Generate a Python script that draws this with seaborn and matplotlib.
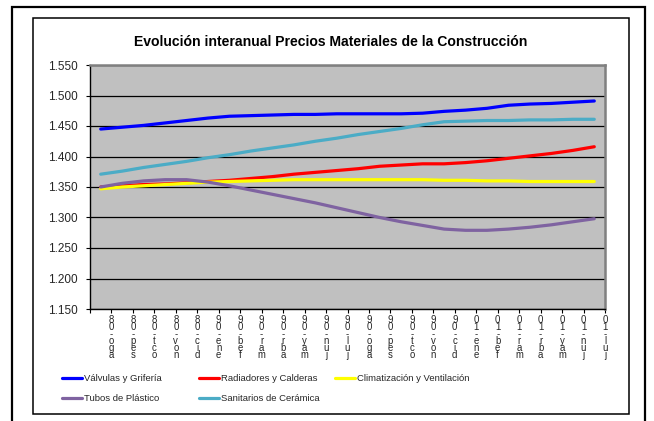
import numpy as np
import pandas as pd
import matplotlib
matplotlib.use("Agg")
import matplotlib.pyplot as plt
import matplotlib.transforms as mtransforms
from matplotlib.lines import Line2D
from matplotlib.patches import Rectangle
import seaborn as sns

# ---------------- data ----------------
meses = ["ago-08", "sep-08", "oct-08", "nov-08", "dic-08", "ene-09", "feb-09", "mar-09",
         "abr-09", "may-09", "jun-09", "jul-09", "ago-09", "sep-09", "oct-09", "nov-09",
         "dic-09", "ene-10", "feb-10", "mar-10", "abr-10", "may-10", "jun-10", "jul-10"]

valvulas = [1.445, 1.448, 1.451, 1.455, 1.459, 1.463, 1.466, 1.467, 1.468, 1.469, 1.469, 1.470,
            1.470, 1.470, 1.470, 1.471, 1.474, 1.476, 1.479, 1.484, 1.486, 1.487, 1.489, 1.491]
radiadores = [1.350, 1.352, 1.354, 1.355, 1.357, 1.359, 1.361, 1.364, 1.367, 1.371, 1.374, 1.377,
              1.380, 1.384, 1.386, 1.388, 1.388, 1.390, 1.393, 1.397, 1.401, 1.405, 1.410, 1.416]
climatizacion = [1.347, 1.350, 1.352, 1.354, 1.356, 1.358, 1.359, 1.360, 1.361, 1.362, 1.362, 1.362,
                 1.362, 1.362, 1.362, 1.362, 1.361, 1.361, 1.360, 1.360, 1.359, 1.359, 1.359, 1.359]
tubos = [1.350, 1.356, 1.360, 1.362, 1.362, 1.358, 1.352, 1.345, 1.338, 1.331, 1.324, 1.316,
         1.308, 1.300, 1.293, 1.287, 1.281, 1.279, 1.279, 1.281, 1.284, 1.288, 1.293, 1.298]
sanitarios = [1.371, 1.376, 1.382, 1.387, 1.392, 1.398, 1.403, 1.409, 1.414, 1.419, 1.425, 1.430,
              1.436, 1.441, 1.446, 1.452, 1.457, 1.458, 1.459, 1.459, 1.460, 1.460, 1.461, 1.461]

series = ["Válvulas y Grifería", "Radiadores y Calderas", "Climatización y Ventilación",
          "Tubos de Plástico", "Sanitarios de Cerámica"]
colores = ["#0000FF", "#FF0000", "#FFFF00", "#7F63A1", "#4BACC6"]
titulo = "Evolución interanual Precios Materiales de la Construcción"
yticks = [1.150, 1.200, 1.250, 1.300, 1.350, 1.400, 1.450, 1.500, 1.550]

valores = [valvulas, radiadores, climatizacion, tubos, sanitarios]
df = pd.DataFrame({
    "idx": np.tile(np.arange(len(meses)), len(series)),
    "serie": np.repeat(series, len(meses)),
    "valor": np.concatenate(valores),
})

# ---------------- style ----------------
sns.set_theme(style="white")
plt.rcParams["font.family"] = ["Liberation Sans", "DejaVu Sans"]

W, H = 654, 421
fig = plt.figure(figsize=(W / 100, H / 100), dpi=100)
fig.patch.set_facecolor("white")

# frames
fig.patches.append(Rectangle((12 / W, -0.05), (645 - 12) / W, 1.05 - 7 / H,
                             transform=fig.transFigure, fill=False, lw=1.6, edgecolor="black"))
fig.patches.append(Rectangle((33 / W, 1 - 414 / H), (629 - 33) / W, (414 - 18) / H,
                             transform=fig.transFigure, fill=False, lw=1.1, edgecolor="black"))

ax = fig.add_axes([90 / W, 1 - 309 / H, (605 - 90) / W, (309 - 65) / H])
ax.set_facecolor("#C0C0C0")

sns.lineplot(data=df, x="idx", y="valor", hue="serie", hue_order=series,
             palette=dict(zip(series, colores)), linewidth=2.3, legend=False,
             estimator=None, sort=False, ax=ax)
for ln in ax.lines:
    ln.set_solid_capstyle("round")
    ln.set_solid_joinstyle("round")

ax.set_xlim(-0.5, len(meses) - 0.5)
ax.set_ylim(1.15, 1.55)
ax.set_xlabel("")
ax.set_ylabel("")

ax.set_yticks(yticks)
ax.set_yticklabels([f"{v:.3f}" for v in yticks])
ax.yaxis.grid(True, color="black", linewidth=0.9)
ax.xaxis.grid(False)
ax.set_axisbelow(True)

stacked = ["\n".join(reversed(m)) for m in meses]
ax.set_xticks(np.arange(-0.5, len(meses), 1.0))
ax.set_xticklabels([""] + stacked, rotation=0, fontsize=6.9, linespacing=0.62,
                   ha="center", va="top", multialignment="center")
offset = mtransforms.ScaledTranslation(-3 / 100, 0, fig.dpi_scale_trans)
for lab in ax.get_xticklabels():
    lab.set_transform(lab.get_transform() + offset)

ax.tick_params(axis="x", direction="out", length=3, width=0.8, color="black", pad=1.5,
               bottom=True)
ax.tick_params(axis="y", direction="out", length=3, width=0.8, color="black", pad=6,
               labelsize=8.5, left=True)

for side in ["left", "bottom"]:
    ax.spines[side].set_color("black")
    ax.spines[side].set_linewidth(1.0)
for side in ["top", "right"]:
    ax.spines[side].set_color("#808080")
    ax.spines[side].set_linewidth(1.8)

fig.text(331 / W, 1 - 42 / H, titulo, ha="center", va="center",
         fontsize=10.1, fontweight="bold", color="black")

# legend, three columns laid out like the original
handles = {s: Line2D([], [], color=c, lw=2.3) for s, c in zip(series, colores)}
cols = [([series[0], series[3]], 62), ([series[1], series[4]], 199), ([series[2]], 335)]
legs = []
for names, xpx in cols:
    leg = ax.legend([handles[n] for n in names], names, loc="upper left",
                    bbox_to_anchor=(xpx / W, 1 - 374 / H), bbox_transform=fig.transFigure,
                    frameon=False, fontsize=6.8, handlelength=2.1, handletextpad=0.25,
                    borderpad=0, borderaxespad=0, labelspacing=1.2)
    legs.append(leg)
for leg in legs[:-1]:
    ax.add_artist(leg)

fig.savefig("out.png", dpi=100, facecolor="white")
